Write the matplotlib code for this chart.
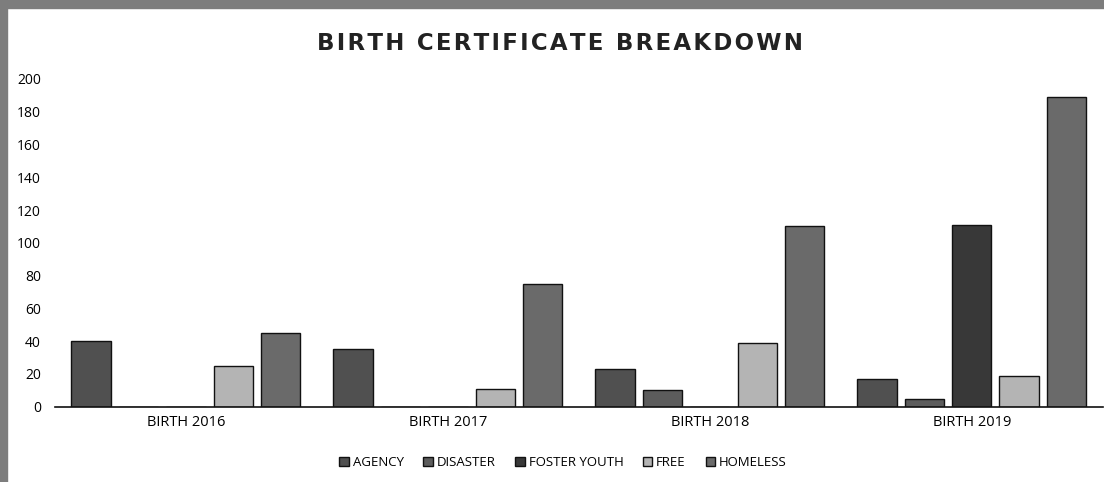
import matplotlib.pyplot as plt
import numpy as np
from matplotlib.patches import Rectangle

categories = ['BIRTH 2016', 'BIRTH 2017', 'BIRTH 2018', 'BIRTH 2019']
series_names = ['AGENCY', 'DISASTER', 'FOSTER YOUTH', 'FREE', 'HOMELESS']
agency = [40, 35, 23, 17]
disaster = [0, 0, 10, 5]
foster_youth = [0, 0, 0, 111]
free = [25, 11, 39, 19]
homeless = [45, 75, 110, 189]
y_ticks = [0, 20, 40, 60, 80, 100, 120, 140, 160, 180, 200]
title = 'BIRTH CERTIFICATE BREAKDOWN'

colors = ['#505050', '#5c5c5c', '#383838', '#b4b4b4', '#6a6a6a']

plt.rcParams['font.family'] = ['Open Sans', 'DejaVu Sans']

fig = plt.figure(figsize=(11.04, 4.82), dpi=100)
ax = fig.add_axes([0.0498, 0.1562, 0.949, 0.680])

x = np.arange(len(categories))
width = 0.15
step = 0.181
all_series = [agency, disaster, foster_youth, free, homeless]
for i, vals in enumerate(all_series):
    ax.bar(x + (i - 2) * step, vals, width, color=colors[i], edgecolor='#111111',
           linewidth=1.0, label=series_names[i])

ax.set_xlim(-0.5, 3.5)
ax.set_ylim(0, 200)
ax.set_yticks(y_ticks)
ax.set_xticks(x)
ax.set_xticklabels(categories, fontsize=10.5)
ax.tick_params(axis='y', labelsize=10, length=0, pad=10)
ax.tick_params(axis='x', length=0, pad=6)
for s in ['top', 'right', 'left']:
    ax.spines[s].set_visible(False)
ax.spines['bottom'].set_color('#111111')
ax.spines['bottom'].set_linewidth(1.2)

# spaced-out bold title
spaced = '\u200a'.join(title)
fig.text(0.507, 0.91, spaced, ha='center', va='center', family='DejaVu Sans',
         fontsize=16.5, fontweight='bold', color='#222222')

fig.legend(loc='center', bbox_to_anchor=(0.51, 0.04), ncol=5, frameon=False,
           fontsize=9.5, handlelength=0.7, handleheight=0.7, handletextpad=0.3,
           columnspacing=1.5)

# scanned frame edges
fig.patches.append(Rectangle((0, 0.983), 1, 0.017, transform=fig.transFigure,
                             color='#7d7d7d', zorder=0))
fig.patches.append(Rectangle((0, 0), 0.0065, 1, transform=fig.transFigure,
                             color='#7d7d7d', zorder=0))

fig.savefig('out.png', dpi=100)
